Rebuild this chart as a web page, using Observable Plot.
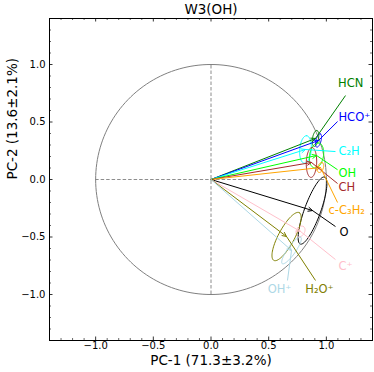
<!DOCTYPE html>
<html><head><meta charset="utf-8">
<script src="https://cdn.jsdelivr.net/npm/d3@7"></script>
<script src="https://cdn.jsdelivr.net/npm/@observablehq/plot@0.6"></script>
<style>body{margin:0;background:#fff} svg{display:block}</style>
</head><body><div id="chart"></div>
<script>
const names = ["HCN","HCO+","C2H","OH","CH","c-C3H2","O","C+","H2O+","OH+"];
const labels = ["HCN","HCO⁺","C₂H","OH","CH","c-C₃H₂","O","C⁺","H₂O⁺","OH⁺"];
const colors = ["#008000","#0000ff","#00ffff","#00ff00","#a52a2a","#ffa500","#000000","#ffc0cb","#808000","#add8e6"];
const pc1 = [0.906,0.932,0.819,0.915,0.871,0.949,0.880,0.776,0.655,0.698];
const pc2 = [0.357,0.339,0.261,0.209,0.148,0.104,-0.270,-0.452,-0.496,-0.617];
const ellA = [0.07,0.06,0.12,0.11,0.13,0.045,0.31,0.05,0.235,0.14];
const ellB = [0.026,0.022,0.05,0.06,0.045,0.025,0.07,0.035,0.07,0.035];
const ellAngle = [80,75,85,80,88,70,70,60,62,55];
const labelX = [1.211,1.105,1.105,1.105,1.105,1.019,1.114,1.105,0.94,0.594];
const labelY = [0.835,0.539,0.243,0.05,-0.072,-0.270,-0.461,-0.757,-0.957,-0.957];
const labelAnchor = ["middle","start","start","start","start","start","start","start","middle","middle"];
const leadX = [1.166,1.097,1.079,1.097,1.097,1.097,1.079,1.079,0.906,0.663];
const leadY = [0.730,0.504,0.243,0.085,-0.035,-0.200,-0.409,-0.696,-0.878,-0.878];
const majorTicks = [-1.0,-0.5,0.0,0.5,1.0];
const minorTicks = [-1.3,-1.2,-1.1,-0.9,-0.8,-0.7,-0.6,-0.4,-0.3,-0.2,-0.1,0.1,0.2,0.3,0.4,0.6,0.7,0.8,0.9,1.1,1.2,1.3];
const title = "W3(OH)";
const xLabel = "PC-1 (71.3±3.2%)";
const yLabel = "PC-2 (13.6±2.1%)";

const rows = names.map((n,i)=>({name:n, label:labels[i], color:colors[i], x:pc1[i], y:pc2[i], lx:labelX[i], ly:labelY[i], ex:leadX[i], ey:leadY[i], anchor:labelAnchor[i]}));
const ellRows = names.flatMap((n,i)=> d3.range(0,361,4).map(t=>{
  const r=t*Math.PI/180, a=ellAngle[i]*Math.PI/180;
  return {name:n, color:colors[i],
    x: pc1[i]+ellA[i]*Math.cos(r)*Math.cos(a)-ellB[i]*Math.sin(r)*Math.sin(a),
    y: pc2[i]+ellA[i]*Math.cos(r)*Math.sin(a)+ellB[i]*Math.sin(r)*Math.cos(a)};
}));
const circle = d3.range(0,361,2).map(t=>({x:Math.cos(t*Math.PI/180), y:Math.sin(t*Math.PI/180)}));

const W=374, H=372, mL=49, mR=2, mT=18, mB=32;
const fw=W-mL-mR, fh=H-mT-mB;
const majL=3.5, minL=2;

const chart = Plot.plot({
  width: W, height: H, marginLeft: mL, marginRight: mR, marginTop: mT, marginBottom: mB,
  style: {fontFamily: "DejaVu Sans", background: "white", color: "#000"},
  x: {domain: [-1.4,1.4], axis: null},
  y: {domain: [-1.4,1.4], axis: null},
  color: {type: "identity"},
  marks: [
    Plot.line(circle, {x:"x", y:"y", stroke:"#808080", strokeWidth:1}),
    Plot.ruleX([0], {y1:-1, y2:1, stroke:"#808080", strokeWidth:0.9, strokeDasharray:"3.5,2"}),
    Plot.ruleY([0], {x1:-1, x2:1, stroke:"#808080", strokeWidth:0.9, strokeDasharray:"3.5,2"}),
    Plot.line(ellRows, {x:"x", y:"y", z:"name", stroke:"color", strokeWidth:1}),
    Plot.arrow(rows, {x1:()=>0, y1:()=>0, x2:"x", y2:"y", stroke:"color", strokeWidth:1, headLength:7, headAngle:50}),
    Plot.link(rows, {x1:"x", y1:"y", x2:"ex", y2:"ey", stroke:"color", strokeWidth:1}),
    Plot.text(rows.filter(d=>d.anchor==="start"), {x:"lx", y:"ly", text:"label", fill:"color", textAnchor:"start", fontSize:11.5}),
    Plot.text(rows.filter(d=>d.anchor==="middle"), {x:"lx", y:"ly", text:"label", fill:"color", textAnchor:"middle", fontSize:11.5}),
    // ticks (inward, all sides)
    Plot.tickX(majorTicks, {x:d=>d, insetTop: fh-majL, stroke:"#000", strokeWidth:0.8}),
    Plot.tickX(majorTicks, {x:d=>d, insetBottom: fh-majL, stroke:"#000", strokeWidth:0.8}),
    Plot.tickX(minorTicks, {x:d=>d, insetTop: fh-minL, stroke:"#000", strokeWidth:0.6}),
    Plot.tickX(minorTicks, {x:d=>d, insetBottom: fh-minL, stroke:"#000", strokeWidth:0.6}),
    Plot.tickY(majorTicks, {y:d=>d, insetRight: fw-majL, stroke:"#000", strokeWidth:0.8}),
    Plot.tickY(majorTicks, {y:d=>d, insetLeft: fw-majL, stroke:"#000", strokeWidth:0.8}),
    Plot.tickY(minorTicks, {y:d=>d, insetRight: fw-minL, stroke:"#000", strokeWidth:0.6}),
    Plot.tickY(minorTicks, {y:d=>d, insetLeft: fw-minL, stroke:"#000", strokeWidth:0.6}),
    Plot.axisX({ticks: majorTicks, tickSize:0, tickPadding:1, tickFormat:d3.format(".1f"), fontSize:10, label:null, anchor:"bottom"}),
    Plot.axisY({ticks: majorTicks, tickSize:0, tickPadding:4, tickFormat:d3.format(".1f"), fontSize:10, label:null, anchor:"left"}),
    Plot.frame({stroke:"#000", strokeWidth:1}),
    Plot.text([title], {frameAnchor:"top", lineAnchor:"middle", dy:-9, fontSize:13.5, fill:"#000"}),
    Plot.text([xLabel], {frameAnchor:"bottom", lineAnchor:"middle", dy:20, fontSize:13.5, fill:"#000"}),
    Plot.text([yLabel], {frameAnchor:"left", lineAnchor:"middle", dx:-37, rotate:-90, fontSize:13.5, fill:"#000"})
  ]
});
document.getElementById("chart").appendChild(chart);
</script>
</body></html>
